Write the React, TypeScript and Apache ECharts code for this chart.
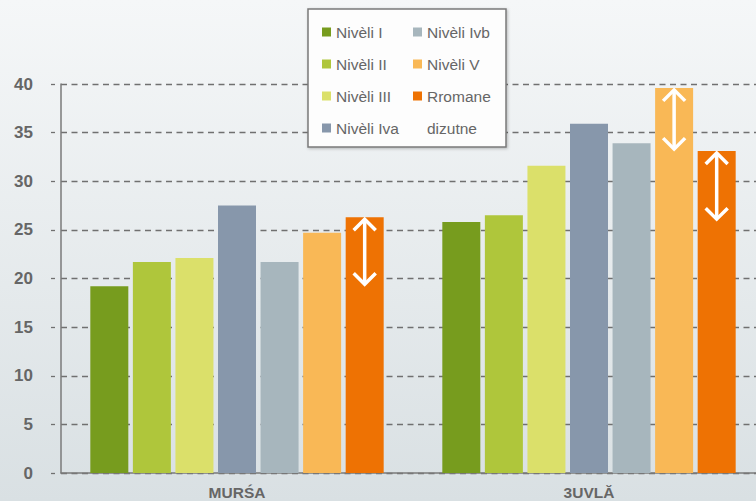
import React, { useEffect, useRef } from "react";
import * as echarts from "echarts";

const categories = ["MURŚA", "3UVLĂ"];
const seriesNames = ["Nivèli I", "Nivèli II", "Nivèli III", "Nivèli Iva", "Nivèli Ivb", "Nivèli V", "Rromane"];
const legendExtra = "dizutne";
const colors = ["#779c1e", "#afc63b", "#dbe06a", "#8797ab", "#a7b6bd", "#f9b856", "#ee7203"];
const nivel1 = [19.2, 25.8];
const nivel2 = [21.7, 26.5];
const nivel3 = [22.1, 31.6];
const nivel4a = [27.5, 35.9];
const nivel4b = [21.7, 33.9];
const nivel5 = [24.7, 39.6];
const rromane = [26.3, 33.1];
const seriesValues = [nivel1, nivel2, nivel3, nivel4a, nivel4b, nivel5, rromane];

// double-headed arrows: category index, series index, top value, bottom value
const arrowCategory = [0, 1, 1];
const arrowSeries = [6, 5, 6];
const arrowTop = [26.2, 39.5, 33.0];
const arrowBottom = [19.3, 33.2, 26.0];

const yTicks = { min: 0, max: 40, interval: 5 };

const BAR_W = 38;
const GAP = 0.12;

export default function App() {
  const ref = useRef<HTMLDivElement>(null);
  useEffect(() => {
    if (!ref.current) return;
    const chart = echarts.init(ref.current, null, { renderer: "svg" });
    const n = seriesNames.length;
    const arrowData = arrowCategory.map((c, i) => [c, arrowTop[i], arrowBottom[i], arrowSeries[i]]);
    const gridColor = "#707070";
    chart.setOption({
      animation: false,
      backgroundColor: {
        type: "linear", x: 0, y: 0, x2: 0, y2: 1,
        colorStops: [
          { offset: 0, color: "#f5f7f8" },
          { offset: 1, color: "#d9e0e3" },
        ],
      },
      textStyle: { fontFamily: "Liberation Sans, Arial, sans-serif" },
      grid: { left: 61, width: 704, top: 84, height: 389, outerBoundsMode: "none", containLabel: false },
      legend: {
        orient: "vertical",
        left: 308,
        top: 9,
        height: 130,
        padding: [7, 2, 3, 14],
        itemWidth: 9,
        itemHeight: 9,
        itemGap: 0,
        icon: "rect",
        backgroundColor: "#fdfdfd",
        borderColor: "#7a7a7a",
        borderWidth: 1.5,
        shadowBlur: 3,
        shadowColor: "rgba(0,0,0,0.25)",
        shadowOffsetX: 1,
        shadowOffsetY: 1,
        selectedMode: false,
        textStyle: {
          fontFamily: "Liberation Sans, Arial, sans-serif",
          fontSize: 15.5,
          color: "#666",
          lineHeight: 32,
          width: 77,
        },
        data: [...seriesNames, { name: legendExtra, itemStyle: { color: "rgba(0,0,0,0)" } }],
      },
      xAxis: {
        type: "category",
        data: categories,
        axisLine: { lineStyle: { color: "#7a7a7a", width: 1.5 } },
        axisTick: { length: 9, lineStyle: { color: "#7a7a7a", width: 1.5 } },
        axisLabel: {
          fontFamily: "Liberation Sans, Arial, sans-serif",
          fontWeight: "bold",
          fontSize: 15.5,
          lineHeight: 16,
          color: "#666",
          margin: 11,
        },
      },
      yAxis: {
        type: "value",
        min: yTicks.min,
        max: yTicks.max,
        interval: yTicks.interval,
        axisLine: { show: true, lineStyle: { color: "#7a7a7a", width: 1.5 } },
        axisTick: { show: true, length: 10, lineStyle: { color: gridColor, width: 1.3, type: [4, 6], dashOffset: 4 } },
        axisLabel: {
          fontFamily: "Liberation Sans, Arial, sans-serif",
          fontWeight: "bold",
          fontSize: 17,
          color: "#666",
          margin: 28,
        },
        splitLine: { lineStyle: { color: gridColor, width: 1.3, type: [6, 4.5] } },
      },
      series: [
        ...seriesNames.map((name, i) => ({
          name,
          type: "bar",
          data: seriesValues[i],
          barWidth: BAR_W,
          barGap: GAP * 100 + "%",
          itemStyle: { color: colors[i] },
        })),
        { name: legendExtra, type: "line", data: [], itemStyle: { color: "rgba(0,0,0,0)" } },
        {
          name: "arrows",
          type: "custom",
          z: 10,
          data: arrowData,
          encode: { x: 0, y: [1, 2] },
          renderItem: (params: any, api: any) => {
            const cat = api.value(0);
            const sIdx = api.value(3);
            const top = api.coord([cat, api.value(1)]);
            const bot = api.coord([cat, api.value(2)]);
            const step = BAR_W * (1 + GAP);
            const cx = top[0] + (sIdx - (n - 1) / 2) * step;
            const t = top[1];
            const b = bot[1];
            const hw = 11;
            const hh = 12;
            const style = { stroke: "#ffffff", lineWidth: 3.5, fill: null, lineJoin: "miter", lineCap: "butt" };
            return {
              type: "group",
              children: [
                { type: "line", shape: { x1: cx, y1: t + 2, x2: cx, y2: b - 2 }, style },
                { type: "polyline", shape: { points: [[cx - hw, t + hh], [cx, t + 1], [cx + hw, t + hh]] }, style },
                { type: "polyline", shape: { points: [[cx - hw, b - hh], [cx, b - 1], [cx + hw, b - hh]] }, style },
              ],
            };
          },
        },
      ],
    });
    return () => chart.dispose();
  }, []);
  return <div ref={ref} style={{ position: "absolute", left: 0, top: 0, width: 756, height: 501 }} />;
}
